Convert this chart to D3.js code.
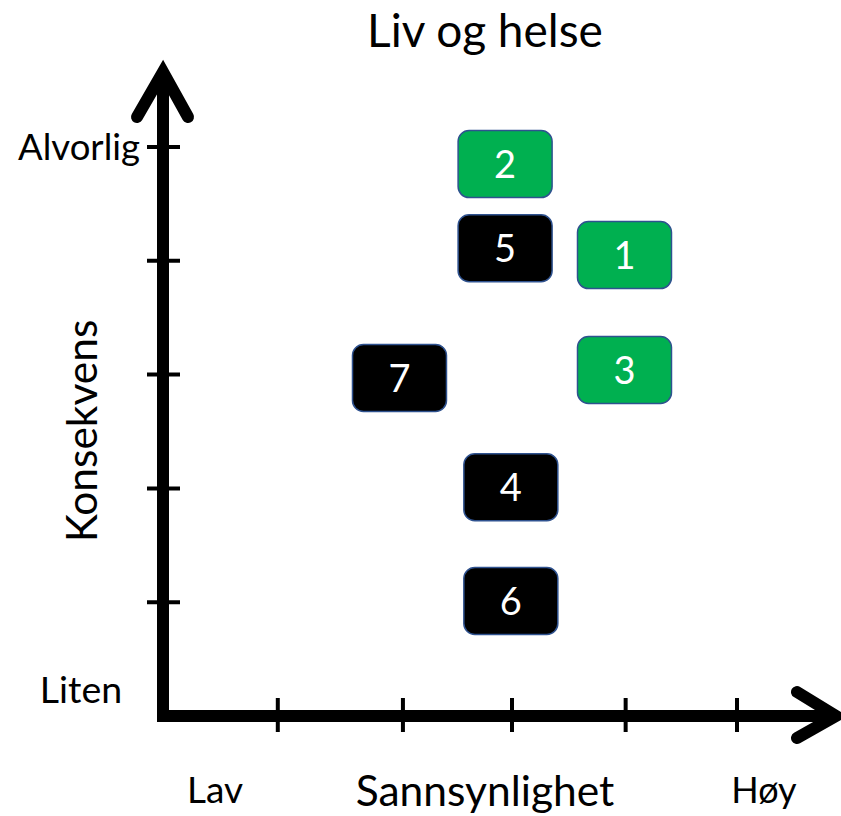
<!DOCTYPE html>
<html>
<head>
<meta charset="utf-8">
<script src="https://cdn.jsdelivr.net/npm/d3@7"></script>
<style>
  html, body { margin: 0; padding: 0; background: #fff; }
  svg { display: block; }
  text { font-family: Lato, "Open Sans", sans-serif; fill: #000; }
</style>
</head>
<body>
<svg id="chart" width="841" height="816"></svg>
<script>
// ---- Data ----
const title = "Liv og helse";
const xTitle = "Sannsynlighet";
const yTitle = "Konsekvens";
const xLowLabel = "Lav";
const xHighLabel = "Høy";
const yLowLabel = "Liten";
const yHighLabel = "Alvorlig";
const xTicks = [1, 2.09, 3.04, 4.03, 5];
const yTicks = [1, 2, 3, 4, 5];
const riskIds = ["1", "2", "3", "4", "5", "6", "7"];
const riskProb = [4.02, 2.98, 4.02, 3.03, 2.98, 3.03, 2.06];
const riskCons = [4.05, 4.85, 3.04, 2.01, 4.11, 1.01, 2.97];
const riskGroup = ["green", "green", "green", "black", "black", "black", "black"];

// ---- Layout ----
const svg = d3.select("#chart");
const x0 = 163, y0 = 716;
const x = d3.scaleLinear().domain([0, 5]).range([x0, 737]);
const y = d3.scaleLinear().domain([0, 5]).range([y0, 147]);
const color = d3.scaleOrdinal().domain(["green", "black"]).range(["#00B050", "#000000"]);

// Axes lines
const axisW = 12;
svg.append("path")
  .attr("d", `M${x0},72 L${x0},${y0} L836,${y0}`)
  .attr("fill", "none").attr("stroke", "#000")
  .attr("stroke-width", axisW).attr("stroke-linejoin", "miter");
// arrow heads
svg.append("path")
  .attr("d", `M${x0 - 26},117 L${x0},72 L${x0 + 25},117`)
  .attr("fill", "none").attr("stroke", "#000").attr("stroke-width", axisW)
  .attr("stroke-linecap", "round").attr("stroke-linejoin", "miter");
svg.append("path")
  .attr("d", `M797,${y0 - 24} L836,${y0} L797,${y0 + 22}`)
  .attr("fill", "none").attr("stroke", "#000").attr("stroke-width", axisW)
  .attr("stroke-linecap", "round").attr("stroke-linejoin", "miter");

// Ticks
svg.append("g").selectAll("line").data(xTicks).join("line")
  .attr("x1", d => x(d)).attr("x2", d => x(d))
  .attr("y1", y0 - 18).attr("y2", y0 + 16)
  .attr("stroke", "#000").attr("stroke-width", 4);
svg.append("g").selectAll("line").data(yTicks).join("line")
  .attr("y1", d => y(d)).attr("y2", d => y(d))
  .attr("x1", x0 - 16).attr("x2", x0 + 17)
  .attr("stroke", "#000").attr("stroke-width", 4);

// Labels
svg.append("text").attr("x", 485).attr("y", 47).attr("text-anchor", "middle")
  .attr("font-size", 46).text(title);
svg.append("text").attr("x", 485).attr("y", 806).attr("text-anchor", "middle")
  .attr("font-size", 42.5).text(xTitle);
svg.append("text").attr("x", 215).attr("y", 803).attr("text-anchor", "middle")
  .attr("font-size", 37).text(xLowLabel);
svg.append("text").attr("x", 764).attr("y", 803).attr("text-anchor", "middle")
  .attr("font-size", 36).text(xHighLabel);
svg.append("text").attr("x", 140).attr("y", 160).attr("text-anchor", "end")
  .attr("font-size", 36.5).text(yHighLabel);
svg.append("text").attr("x", 81).attr("y", 703).attr("text-anchor", "middle")
  .attr("font-size", 37.5).text(yLowLabel);
svg.append("text").attr("transform", "translate(97,431) rotate(-90)")
  .attr("text-anchor", "middle").attr("font-size", 42.5).text(yTitle);

// Risk boxes
const risks = riskIds.map((id, i) => ({ id, p: riskProb[i], c: riskCons[i], g: riskGroup[i] }));
const bw = 94, bh = 67;
const gBox = svg.append("g").selectAll("g").data(risks).join("g")
  .attr("transform", d => `translate(${x(d.p)},${y(d.c)})`);
gBox.append("rect")
  .attr("x", -bw / 2).attr("y", -bh / 2).attr("width", bw).attr("height", bh)
  .attr("rx", 11).attr("ry", 11)
  .attr("fill", d => color(d.g)).attr("stroke", "#2F528F").attr("stroke-width", 1.5);
gBox.append("text").attr("text-anchor", "middle").attr("dy", "0.36em")
  .attr("font-size", 38).style("fill", "#fff").text(d => d.id);
</script>
</body>
</html>
